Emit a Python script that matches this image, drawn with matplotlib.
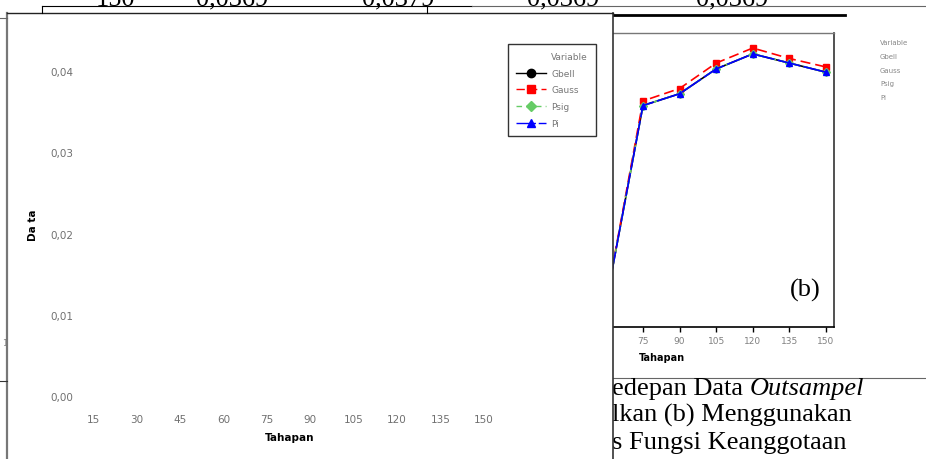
import matplotlib
matplotlib.use("Agg")
import matplotlib.pyplot as plt
from matplotlib.lines import Line2D

# ---------------- data ----------------
tahapan_ticks = [15, 30, 45, 60, 75, 90, 105, 120, 135, 150]
tahapan_labels = ["15", "30", "45", "60", "75", "90", "105", "120", "135", "150"]
data_ticks = [0.00, 0.01, 0.02, 0.03, 0.04]
data_labels = ["0,00", "0,01", "0,02", "0,03", "0,04"]

# visible part of panel (b)
tahapan_b = [60, 75, 90, 105, 120, 135, 150]
gbell_b = [0.0040, 0.0339, 0.0357, 0.0395, 0.0418, 0.0404, 0.0390]
gauss_b = [0.0041, 0.0346, 0.0365, 0.0404, 0.0427, 0.0411, 0.0398]
psig_b = [0.0040, 0.0339, 0.0357, 0.0395, 0.0418, 0.0404, 0.0390]
pi_b = [0.0040, 0.0339, 0.0357, 0.0395, 0.0418, 0.0404, 0.0390]

series_names = ["Gbell", "Gauss", "Psig", "Pi"]
table_row = ["150", "0,0369", "0,0379", "0,0369", "0,0369"]
caption_lines = [("edepan Data ", "Outsampel"), ("lkan (b) Menggunakan", ""), ("s Fungsi Keanggotaan", "")]

# ---------------- layout ----------------
W, H = 926, 460
fig = plt.figure(figsize=(W / 100, H / 100), dpi=100)
fig.patch.set_facecolor("white")


def fx(px):
    return px / W


def fy(py):
    return 1 - py / H


def rect(l, t, r, b):
    return [fx(l), fy(b), (r - l) / W, (b - t) / H]


styles = {
    "Gbell": dict(color="black", linestyle="-", marker="o"),
    "Gauss": dict(color="#ff0000", linestyle=(0, (6, 3)), marker="s"),
    "Psig": dict(color="#66cc66", linestyle=(0, (4, 3)), marker="D"),
    "Pi": dict(color="#0000ff", linestyle=(0, (14, 2)), marker="^"),
}

# ---------- background panel (b) ----------
axb = fig.add_axes(rect(490, 34, 834, 328), zorder=1)
axb.set_xlim(12.3, 153.3)
axb.set_ylim(0, 0.045)
for name, vals in zip(series_names, [gbell_b, gauss_b, psig_b, pi_b]):
    st = styles[name]
    ms = 4.6 if name == "Pi" else 3.8
    axb.plot(tahapan_b, vals, color=st["color"], linestyle=st["linestyle"],
             marker=st["marker"], markersize=ms, linewidth=1.2)
axb.spines["left"].set_visible(False)
axb.spines["top"].set_color("#777777")
axb.spines["top"].set_linewidth(1.0)
axb.spines["right"].set_color("#333333")
axb.spines["right"].set_linewidth(1.2)
axb.spines["bottom"].set_color("black")
axb.spines["bottom"].set_linewidth(1.2)
axb.set_xticks(tahapan_ticks)
axb.set_xticklabels(tahapan_labels)
axb.set_yticks([])
axb.tick_params(axis="x", direction="out", length=3.5, width=1, color="black",
                labelcolor="#808080", labelsize=6.5, pad=3)
axb.set_xlabel("Tahapan", fontsize=7, fontweight="bold")
axb.xaxis.set_label_coords(0.5, (328 - 358) / 294)
axb.xaxis.label.set_verticalalignment("center")
axb.text((805 - 490) / 344, (328 - 290) / 294, "(b)", transform=axb.transAxes,
         ha="center", va="center", fontsize=19, family="Liberation Serif")

# ---------- caption text (behind front panel) ----------
serif = "Liberation Serif"
renderer = fig.canvas.get_renderer()
baselines = [395, 422, 449]
for (normal, italic), by in zip(caption_lines, baselines):
    t1 = fig.text(fx(612), fy(by), normal, fontsize=19, family=serif,
                  va="baseline", ha="left", zorder=1.5)
    if italic:
        w = t1.get_window_extent(renderer=renderer).width
        fig.text(fx(612) + w / W, fy(by), italic, fontsize=19, family=serif,
                 style="italic", va="baseline", ha="left", zorder=1.5)

# ---------- figure decorations ----------
def hline(y, x0, x1, color="black", lw=0.8, z=5):
    fig.add_artist(Line2D([fx(x0), fx(x1)], [fy(y), fy(y)], color=color, lw=lw,
                          transform=fig.transFigure, zorder=z))


def vline(x, y0, y1, color="black", lw=0.8, z=5):
    fig.add_artist(Line2D([fx(x), fx(x)], [fy(y0), fy(y1)], color=color, lw=lw,
                          transform=fig.transFigure, zorder=z))


hline(6.5, 42, 472, color="black", lw=0.8)
hline(7, 472, 926, color="#666666", lw=0.8)
vline(42, 6.5, 14)
vline(427, 6.5, 14)
hline(16, 613, 845, color="black", lw=2.0, z=1.5)
hline(19, 0, 7, color="#666666", lw=0.8)
hline(382, 0, 7, color="#333333", lw=0.8)
hline(379, 613, 926, color="#666666", lw=0.8, z=1.5)

centers = [115, 232, 398, 563, 732]
for txt, cx in zip(table_row, centers):
    fig.text(fx(cx), fy(5.5), txt, fontsize=19, family=serif, ha="center",
             va="baseline", zorder=5)

legend_y = [43, 57, 71, 84, 98]
for txt, yy in zip(["Variable"] + series_names, legend_y):
    fig.text(fx(880), fy(yy), txt, fontsize=5, color="#888888", ha="left",
             va="center", zorder=5)

fig.text(fx(2), fy(343), "1", fontsize=6, color="#888888", ha="left",
         va="center", zorder=1.5)

# ---------- front panel (white sheet) ----------
panel = fig.add_axes([fx(7), -0.05, (613 - 7) / W, (460 - 14) / H + 0.05], zorder=2)
panel.set_facecolor("white")
panel.set_xticks([])
panel.set_yticks([])
panel.spines["bottom"].set_visible(False)
panel.spines["left"].set_color("#777777")
panel.spines["left"].set_linewidth(1.6)
panel.spines["top"].set_color("#222222")
panel.spines["top"].set_linewidth(1.0)
panel.spines["right"].set_color("#333333")
panel.spines["right"].set_linewidth(1.2)

# ---------- front chart (a) ----------
L, R, T, B = 80, 500, 60, 405
ax = fig.add_axes(rect(L, T, R, B), zorder=3)
ax.set_facecolor("none")
for s in ax.spines.values():
    s.set_visible(False)
px_per_x = (484 - 93) / (150 - 15)
px_per_y = (397 - 72) / 0.04
ax.set_xlim(15 - (93 - L) / px_per_x, 150 + (R - 484) / px_per_x)
ax.set_ylim(0 - (B - 397) / px_per_y, 0.04 + (72 - T) / px_per_y)
ax.set_xticks(tahapan_ticks)
ax.set_xticklabels(tahapan_labels)
ax.set_yticks(data_ticks)
ax.set_yticklabels(data_labels)
ax.tick_params(length=0, labelcolor="#707070", labelsize=7.5)
ax.tick_params(axis="x", pad=7)
ax.tick_params(axis="y", pad=5)
ax.set_xlabel("Tahapan", fontsize=7.5, fontweight="bold")
ax.xaxis.set_label_coords(0.5, (B - 438) / (B - T))
ax.xaxis.label.set_verticalalignment("center")
ax.set_ylabel("Da ta", fontsize=7.5, fontweight="bold")
ax.yaxis.set_label_coords((33 - L) / (R - L), (B - 225) / (B - T))
ax.yaxis.label.set_verticalalignment("center")

handles = [Line2D([], [], linestyle="none", marker=None)]
for name in series_names:
    st = styles[name]
    handles.append(Line2D([], [], color=st["color"], linestyle=st["linestyle"],
                          marker=st["marker"], markersize=6 if name != "Psig" else 5,
                          linewidth=1.0))
leg = ax.legend(handles, ["Variable"] + series_names, loc="upper left",
                bbox_to_anchor=(fx(508), fy(45)), bbox_transform=fig.transFigure,
                frameon=True, fancybox=False, fontsize=6.5, labelcolor="#777777",
                handlelength=3.3, handletextpad=0.6, labelspacing=0.85,
                borderpad=0.9, borderaxespad=0)
leg.get_frame().set_edgecolor("black")
leg.get_frame().set_linewidth(1.0)

fig.savefig("out.png", dpi=100, facecolor="white")
